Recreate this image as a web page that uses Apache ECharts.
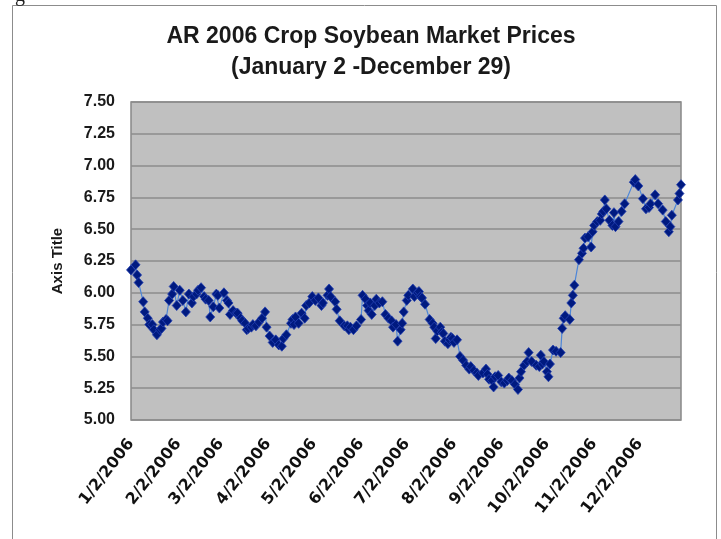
<!DOCTYPE html>
<html lang="en">

<head>
	<meta charset="UTF-8">
	<title>AR 2006 Crop Soybean Market Prices</title>
	<style>
		html, body { margin: 0; padding: 0; background: #fff; }
		#main { width: 721px; height: 539px; }
	</style>
</head>

<body>
	<div id="main"></div>

	<script src="https://cdn.jsdelivr.net/npm/echarts@6/dist/echarts.min.js"></script>
	<script>
		// day of year 2006 for each reading
		var dayOfYear = [2, 5, 6, 7, 10, 11, 13, 14, 16, 17,
			19, 21, 22, 23, 25, 26, 27, 29, 30, 32,
			34, 36, 38, 40, 42, 43, 45, 46, 48, 50,
			51, 53, 54, 56, 58, 59, 60, 63, 65, 66,
			67, 69, 71, 72, 74, 75, 77, 78, 79, 81,
			82, 84, 86, 88, 90, 91, 93, 95, 97, 99,
			101, 102, 104, 107, 108, 109, 110, 112, 114, 116,
			117, 119, 121, 123, 125, 127, 128, 131, 132, 133,
			136, 137, 139, 142, 144, 145, 146, 148, 150, 153,
			154, 156, 157, 158, 159, 160, 162, 163, 165, 167,
			169, 171, 173, 174, 176, 177, 179, 180, 181, 183,
			184, 187, 188, 190, 191, 192, 193, 195, 198, 200,
			201, 202, 203, 205, 206, 207, 208, 210, 211, 212,
			213, 214, 216, 218, 220, 222, 224, 225, 227, 229,
			230, 233, 235, 236, 237, 239, 240, 241, 243, 245,
			247, 249, 250, 252, 254, 256, 257, 258, 260, 262,
			263, 265, 268, 270, 271, 272, 273, 275, 276, 277,
			279, 281, 284, 285, 286, 287, 290, 291, 292, 293,
			296, 298, 299, 300, 302, 304, 305, 306, 308, 310,
			311, 312, 313, 314, 316, 318, 319, 320, 322, 324,
			326, 332, 333, 335, 338, 340, 342, 343, 346, 348,
			351, 353, 355, 356, 357, 361, 362, 363]

		// price ($/bu)
		var prices = [6.18, 6.22, 6.14, 6.08, 5.93, 5.85, 5.80, 5.75, 5.75, 5.71,
			5.67, 5.71, 5.72, 5.77, 5.79, 5.78, 5.94, 5.99, 6.05, 5.90,
			6.02, 5.94, 5.85, 5.99, 5.92, 5.97, 5.99, 6.02, 6.04, 5.97,
			5.95, 5.94, 5.81, 5.89, 5.99, 5.98, 5.88, 6.00, 5.94, 5.92,
			5.83, 5.86, 5.84, 5.84, 5.80, 5.78, 5.76, 5.71, 5.72, 5.73,
			5.75, 5.74, 5.77, 5.80, 5.85, 5.73, 5.66, 5.61, 5.63, 5.59,
			5.58, 5.64, 5.67, 5.76, 5.79, 5.75, 5.81, 5.76, 5.84, 5.80,
			5.90, 5.92, 5.97, 5.94, 5.96, 5.90, 5.92, 5.98, 6.03, 5.97,
			5.93, 5.87, 5.78, 5.74, 5.74, 5.71, 5.73, 5.71, 5.74, 5.79,
			5.98, 5.95, 5.90, 5.86, 5.92, 5.83, 5.90, 5.95, 5.92, 5.93,
			5.83, 5.80, 5.78, 5.73, 5.75, 5.62, 5.71, 5.76, 5.85, 5.94,
			5.98, 6.03, 5.97, 6.00, 6.01, 5.97, 5.96, 5.91, 5.79, 5.76,
			5.73, 5.64, 5.70, 5.73, 5.69, 5.68, 5.62, 5.60, 5.63, 5.65,
			5.64, 5.61, 5.63, 5.50, 5.47, 5.43, 5.40, 5.42, 5.39, 5.37,
			5.35, 5.37, 5.40, 5.36, 5.32, 5.31, 5.26, 5.34, 5.35, 5.30,
			5.29, 5.31, 5.33, 5.31, 5.28, 5.24, 5.33, 5.38, 5.43, 5.46,
			5.53, 5.46, 5.43, 5.42, 5.51, 5.44, 5.46, 5.38, 5.34, 5.44,
			5.55, 5.54, 5.53, 5.72, 5.80, 5.82, 5.79, 5.92, 5.98, 6.06,
			6.26, 6.31, 6.35, 6.43, 6.44, 6.36, 6.48, 6.53, 6.56, 6.57,
			6.62, 6.64, 6.73, 6.66, 6.57, 6.53, 6.63, 6.52, 6.56, 6.64,
			6.70, 6.87, 6.89, 6.84, 6.74, 6.66, 6.67, 6.70, 6.77, 6.70,
			6.65, 6.56, 6.48, 6.52, 6.61, 6.73, 6.78, 6.85]

		var tickLabels = ['1/2/2006', '2/2/2006', '3/2/2006', '4/2/2006', '5/2/2006', '6/2/2006',
			'7/2/2006', '8/2/2006', '9/2/2006', '10/2/2006', '11/2/2006', '12/2/2006']

		// m/d/yyyy -> day of year
		function toDay(label) {
			var p = label.split('/')
			var t = Date.UTC(+p[2], +p[0] - 1, +p[1]) - Date.UTC(+p[2], 0, 1)
			return Math.round(t / 86400000) + 1
		}

		var tickDays = tickLabels.map(toDay)
		var labelOf = {}
		tickDays.forEach(function (d, i) { labelOf[d] = tickLabels[i] })

		var seriesData = dayOfYear.map(function (d, i) {
			return [d, prices[i]]
		})

		var chart = echarts.init(document.getElementById('main'))
		var option = {
			animation: false,
			backgroundColor: '#fff',
			title: {
				text: 'AR 2006 Crop Soybean Market Prices\n(January 2 -December 29)',
				left: 366,
				top: 16,
				textAlign: 'center',
				textStyle: {
					fontFamily: 'Liberation Sans',
					fontSize: 23,
					fontWeight: 'bold',
					lineHeight: 31,
					color: '#1a1a1a'
				}
			},
			graphic: [{
				type: 'rect',
				silent: true,
				shape: { x: 12.5, y: 5.5, width: 704, height: 560 },
				style: { fill: 'none', stroke: '#8c8c8c', lineWidth: 1 }
			}, {
				type: 'text',
				silent: true,
				style: { text: 'g', x: 15, y: -14, font: '20px "Liberation Serif"', fill: '#222' }
			}],
			grid: {
				left: 131,
				top: 102,
				width: 550,
				height: 318,
				show: true,
				backgroundColor: '#c0c0c0',
				borderColor: '#888',
				borderWidth: 1.5,
				outerBoundsMode: 'none'
			},
			xAxis: {
				type: 'value',
				min: toDay('1/2/2006'),
				max: toDay('12/29/2006'),
				axisLine: { show: false },
				axisTick: { show: false },
				splitLine: { show: false },
				axisLabel: {
					customValues: tickDays,
					rotate: 52,
					margin: 21,
					fontFamily: 'DejaVu Sans',
					fontSize: 16,
					fontWeight: 'bold',
					color: '#111',
					formatter: function (v) { return labelOf[v] || '' }
				}
			},
			yAxis: {
				type: 'value',
				min: 5,
				max: 7.5,
				interval: 0.25,
				name: 'Axis Title',
				nameLocation: 'middle',
				nameRotate: 90,
				nameGap: 66,
				nameTextStyle: {
					fontFamily: 'Liberation Sans',
					fontSize: 15,
					fontWeight: 'bold',
					color: '#1a1a1a'
				},
				axisLine: { show: false },
				axisTick: { show: false },
				axisLabel: {
					margin: 16,
					fontFamily: 'Liberation Sans',
					fontSize: 16,
					fontWeight: 'bold',
					color: '#1a1a1a',
					formatter: function (v) { return v.toFixed(2) }
				},
				splitLine: { lineStyle: { color: '#8c8c8c', width: 1.5 } }
			},
			series: [{
				type: 'line',
				data: seriesData,
				showAllSymbol: true,
				symbol: 'diamond',
				symbolSize: [9, 10],
				itemStyle: { color: '#001a80', borderColor: '#2340b0', borderWidth: 0.8 },
				lineStyle: { color: '#4d86d8', width: 1.2 }
			}]
		}
		chart.setOption(option)
	</script>
</body>

</html>
